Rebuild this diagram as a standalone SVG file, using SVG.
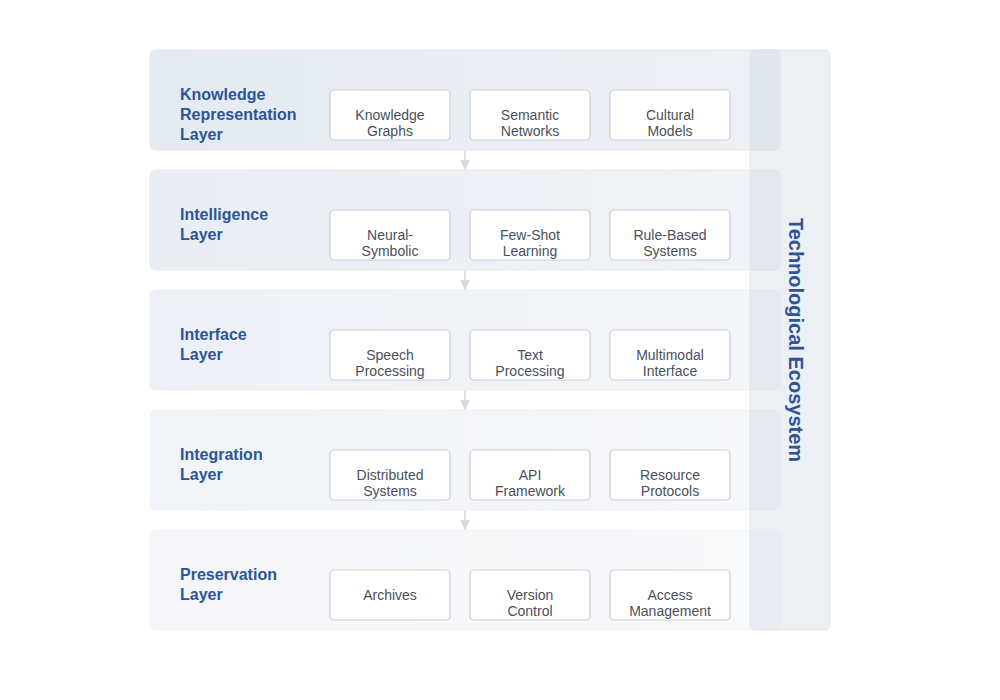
<svg xmlns="http://www.w3.org/2000/svg" width="1000" height="700" viewBox="0 0 1000 700">
<defs>
<linearGradient id="lg" x1="0" y1="0" x2="1" y2="0">
<stop offset="0" stop-color="#e3e9f2"/>
<stop offset="1" stop-color="#edf1f6"/>
</linearGradient>
<marker id="ah" viewBox="0 0 10 10" refX="10" refY="5" markerWidth="10" markerHeight="10" markerUnits="userSpaceOnUse" orient="auto">
<path d="M0,0 L10,5 L0,10 z" fill="#d6dbe3"/>
</marker>
<style>
.layer{fill:url(#lg);stroke:#e0e5ec;stroke-width:1}
.title{font-family:"Liberation Sans",Arial,sans-serif;font-size:16px;font-weight:bold;fill:#2d5596}
.box{fill:#ffffff;stroke:#c9cdd5;stroke-width:1.2}
.lbl{font-family:"Liberation Sans",Arial,sans-serif;font-size:14px;fill:#4a505b;text-anchor:middle}
.conn{stroke:#d6dbe3;stroke-width:1.5;fill:none}
</style>
</defs>
<rect width="1000" height="700" fill="#ffffff"/>
<g id="connectors">
<line class="conn" x1="465" y1="150" x2="465" y2="170" marker-end="url(#ah)"/>
<line class="conn" x1="465" y1="270" x2="465" y2="290" marker-end="url(#ah)"/>
<line class="conn" x1="465" y1="390" x2="465" y2="410" marker-end="url(#ah)"/>
<line class="conn" x1="465" y1="510" x2="465" y2="530" marker-end="url(#ah)"/>
</g>
<g id="layer-knowledge">
<rect class="layer" x="150" y="50" width="630" height="100" rx="6" opacity="0.95"/>
<text class="title" x="180" y="100">Knowledge</text>
<text class="title" x="180" y="120">Representation</text>
<text class="title" x="180" y="140">Layer</text>
</g>
<g id="node-knowledge-graphs"><rect class="box" x="330" y="90" width="120" height="50" rx="4"/><text class="lbl" x="390" y="120">Knowledge</text><text class="lbl" x="390" y="136">Graphs</text></g>
<g id="node-semantic-networks"><rect class="box" x="470" y="90" width="120" height="50" rx="4"/><text class="lbl" x="530" y="120">Semantic</text><text class="lbl" x="530" y="136">Networks</text></g>
<g id="node-cultural-models"><rect class="box" x="610" y="90" width="120" height="50" rx="4"/><text class="lbl" x="670" y="120">Cultural</text><text class="lbl" x="670" y="136">Models</text></g>

<g id="layer-intelligence">
<rect class="layer" x="150" y="170" width="630" height="100" rx="6" opacity="0.8"/>
<text class="title" x="180" y="220">Intelligence</text>
<text class="title" x="180" y="240">Layer</text>
</g>
<g id="node-neural-symbolic"><rect class="box" x="330" y="210" width="120" height="50" rx="4"/><text class="lbl" x="390" y="240">Neural-</text><text class="lbl" x="390" y="256">Symbolic</text></g>
<g id="node-few-shot"><rect class="box" x="470" y="210" width="120" height="50" rx="4"/><text class="lbl" x="530" y="240">Few-Shot</text><text class="lbl" x="530" y="256">Learning</text></g>
<g id="node-rule-based"><rect class="box" x="610" y="210" width="120" height="50" rx="4"/><text class="lbl" x="670" y="240">Rule-Based</text><text class="lbl" x="670" y="256">Systems</text></g>

<g id="layer-interface">
<rect class="layer" x="150" y="290" width="630" height="100" rx="6" opacity="0.65"/>
<text class="title" x="180" y="340">Interface</text>
<text class="title" x="180" y="360">Layer</text>
</g>
<g id="node-speech"><rect class="box" x="330" y="330" width="120" height="50" rx="4"/><text class="lbl" x="390" y="360">Speech</text><text class="lbl" x="390" y="376">Processing</text></g>
<g id="node-text"><rect class="box" x="470" y="330" width="120" height="50" rx="4"/><text class="lbl" x="530" y="360">Text</text><text class="lbl" x="530" y="376">Processing</text></g>
<g id="node-multimodal"><rect class="box" x="610" y="330" width="120" height="50" rx="4"/><text class="lbl" x="670" y="360">Multimodal</text><text class="lbl" x="670" y="376">Interface</text></g>

<g id="layer-integration">
<rect class="layer" x="150" y="410" width="630" height="100" rx="6" opacity="0.5"/>
<text class="title" x="180" y="460">Integration</text>
<text class="title" x="180" y="480">Layer</text>
</g>
<g id="node-distributed"><rect class="box" x="330" y="450" width="120" height="50" rx="4"/><text class="lbl" x="390" y="480">Distributed</text><text class="lbl" x="390" y="496">Systems</text></g>
<g id="node-api"><rect class="box" x="470" y="450" width="120" height="50" rx="4"/><text class="lbl" x="530" y="480">API</text><text class="lbl" x="530" y="496">Framework</text></g>
<g id="node-resource"><rect class="box" x="610" y="450" width="120" height="50" rx="4"/><text class="lbl" x="670" y="480">Resource</text><text class="lbl" x="670" y="496">Protocols</text></g>

<g id="layer-preservation">
<rect class="layer" x="150" y="530" width="630" height="100" rx="6" opacity="0.38"/>
<text class="title" x="180" y="580">Preservation</text>
<text class="title" x="180" y="600">Layer</text>
</g>
<g id="node-archives"><rect class="box" x="330" y="570" width="120" height="50" rx="4"/><text class="lbl" x="390" y="600">Archives</text></g>
<g id="node-version"><rect class="box" x="470" y="570" width="120" height="50" rx="4"/><text class="lbl" x="530" y="600">Version</text><text class="lbl" x="530" y="616">Control</text></g>
<g id="node-access"><rect class="box" x="610" y="570" width="120" height="50" rx="4"/><text class="lbl" x="670" y="600">Access</text><text class="lbl" x="670" y="616">Management</text></g>

<g id="ecosystem">
<rect x="750" y="50" width="80" height="580" rx="6" fill="#d5dce7" fill-opacity="0.45" stroke="#dfe4eb" stroke-width="1"/>
<text transform="translate(789,340) rotate(90)" text-anchor="middle" font-family="'Liberation Sans',Arial,sans-serif" font-size="20" font-weight="bold" fill="#2d5596">Technological Ecosystem</text>
</g>
</svg>
